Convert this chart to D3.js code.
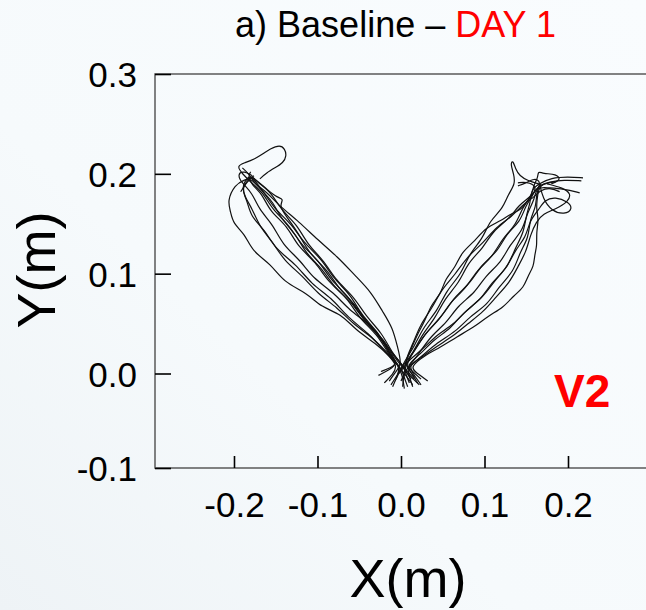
<!DOCTYPE html>
<html>
<head>
<meta charset="utf-8">
<script src="https://cdn.jsdelivr.net/npm/d3@7"></script>
<style>
  html, body { margin: 0; padding: 0; background: #f8fbfd; }
  svg { display: block; }
</style>
</head>
<body>
<svg id="chart" width="646" height="610"></svg>
<script>
// Axis ticks (metres)
const xTicks = [-0.2, -0.1, 0.0, 0.1, 0.2];
const yTicks = [-0.1, 0.0, 0.1, 0.2, 0.3];

// Hand paths, [x, y] in metres — reaches toward the upper-left target
const left1 = [[0.014,-0.012],[0.006,-0.002],[-0.004,0.008],[-0.012,0.016],[-0.030,0.030],[-0.055,0.044],[-0.072,0.060],[-0.095,0.066],[-0.113,0.081],[-0.140,0.091],[-0.156,0.110],[-0.178,0.122],[-0.187,0.140],[-0.201,0.150],[-0.204,0.162],[-0.208,0.173],[-0.199,0.189],[-0.188,0.194],[-0.178,0.196]];
const left2 = [[-0.020,-0.010],[-0.010,-0.001],[-0.003,0.008],[-0.021,0.023],[-0.038,0.040],[-0.064,0.056],[-0.083,0.076],[-0.107,0.089],[-0.126,0.110],[-0.150,0.124],[-0.163,0.144],[-0.180,0.157],[-0.184,0.173],[-0.191,0.184],[-0.184,0.194],[-0.176,0.198]];
const left3 = [[0.008,-0.014],[0.003,-0.002],[0.000,0.006],[-0.015,0.019],[-0.028,0.039],[-0.050,0.055],[-0.064,0.076],[-0.087,0.091],[-0.102,0.112],[-0.124,0.127],[-0.136,0.148],[-0.157,0.162],[-0.166,0.180],[-0.179,0.189],[-0.183,0.198],[-0.180,0.202]];
const left4 = [[-0.024,0.002],[-0.012,0.006],[-0.003,0.010],[-0.017,0.026],[-0.029,0.043],[-0.048,0.059],[-0.060,0.079],[-0.081,0.095],[-0.095,0.115],[-0.117,0.131],[-0.131,0.150],[-0.152,0.165],[-0.163,0.181],[-0.176,0.191],[-0.182,0.200],[-0.190,0.206]];
const left5 = [[0.016,-0.006],[0.008,0.002],[0.001,0.009],[-0.011,0.021],[-0.023,0.041],[-0.042,0.057],[-0.056,0.077],[-0.078,0.093],[-0.092,0.113],[-0.112,0.129],[-0.124,0.149],[-0.144,0.164],[-0.155,0.181],[-0.171,0.191],[-0.178,0.197]];
const left6 = [[-0.010,-0.014],[-0.004,-0.002],[-0.001,0.007],[-0.013,0.019],[-0.025,0.037],[-0.044,0.052],[-0.058,0.071],[-0.080,0.086],[-0.094,0.105],[-0.114,0.120],[-0.126,0.140],[-0.144,0.155],[-0.153,0.172],[-0.167,0.183],[-0.174,0.193],[-0.180,0.197]];
const left7 = [[0.022,-0.012],[0.010,-0.002],[0.003,0.005],[-0.009,0.017],[-0.021,0.035],[-0.040,0.049],[-0.053,0.068],[-0.074,0.084],[-0.088,0.104],[-0.110,0.120],[-0.123,0.141],[-0.138,0.158],[-0.146,0.168],[-0.140,0.175],[-0.148,0.176],[-0.160,0.184],[-0.172,0.193],[-0.179,0.197]];
const left8 = [[-0.027,-0.002],[-0.014,0.004],[-0.004,0.009],[-0.015,0.021],[-0.027,0.041],[-0.048,0.057],[-0.062,0.077],[-0.084,0.093],[-0.098,0.113],[-0.120,0.129],[-0.134,0.149],[-0.154,0.164],[-0.165,0.181],[-0.179,0.191],[-0.190,0.200],[-0.197,0.208],[-0.187,0.211],[-0.175,0.215],[-0.165,0.220],[-0.157,0.225],[-0.145,0.229],[-0.139,0.225],[-0.137,0.218],[-0.141,0.211],[-0.151,0.206],[-0.161,0.201],[-0.169,0.195]];
const left9 = [[0.012,-0.006],[0.004,0.004],[-0.001,0.012],[-0.019,0.029],[-0.036,0.049],[-0.062,0.063],[-0.080,0.081],[-0.105,0.095],[-0.120,0.113],[-0.142,0.129],[-0.153,0.149],[-0.170,0.164],[-0.178,0.181],[-0.191,0.191],[-0.196,0.200],[-0.188,0.203],[-0.178,0.198]];
const left10 = [[-0.014,-0.008],[-0.006,0.002],[0.001,0.010],[-0.004,0.026],[-0.010,0.046],[-0.022,0.062],[-0.036,0.082],[-0.055,0.098],[-0.076,0.117],[-0.100,0.134],[-0.122,0.152],[-0.146,0.168],[-0.161,0.182],[-0.175,0.190],[-0.180,0.196],[-0.186,0.190],[-0.192,0.182]];
const left11 = [[0.004,-0.016],[0.002,-0.004],[-0.002,0.008],[-0.018,0.022],[-0.034,0.036],[-0.058,0.050],[-0.076,0.066],[-0.100,0.080],[-0.118,0.098],[-0.140,0.113],[-0.154,0.132],[-0.170,0.148],[-0.178,0.165],[-0.188,0.178],[-0.190,0.190],[-0.182,0.197]];

// Hand paths toward the upper-right target
const right1 = [[0.010,-0.010],[0.006,-0.001],[0.003,0.007],[0.012,0.024],[0.020,0.040],[0.029,0.053],[0.036,0.069],[0.048,0.080],[0.053,0.095],[0.065,0.106],[0.072,0.121],[0.089,0.133],[0.101,0.146],[0.120,0.153],[0.131,0.160],[0.143,0.163],[0.153,0.175],[0.162,0.184],[0.168,0.190]];
const right2 = [[-0.012,-0.012],[-0.004,-0.001],[0.002,0.008],[0.015,0.021],[0.025,0.039],[0.041,0.055],[0.052,0.075],[0.070,0.091],[0.080,0.111],[0.098,0.125],[0.110,0.143],[0.130,0.155],[0.141,0.169],[0.156,0.177],[0.164,0.188],[0.178,0.192],[0.195,0.194],[0.216,0.193]];
const right3 = [[0.020,-0.010],[0.012,0.001],[0.005,0.010],[0.017,0.023],[0.029,0.041],[0.047,0.054],[0.058,0.071],[0.078,0.085],[0.090,0.103],[0.110,0.117],[0.121,0.135],[0.138,0.149],[0.145,0.166],[0.156,0.177],[0.159,0.189],[0.164,0.196],[0.164,0.203],[0.170,0.200],[0.186,0.200],[0.192,0.194],[0.180,0.190]];
const right4 = [[0.002,-0.014],[0.003,-0.003],[0.006,0.004],[0.021,0.019],[0.035,0.037],[0.055,0.051],[0.068,0.068],[0.089,0.081],[0.101,0.098],[0.120,0.111],[0.130,0.129],[0.146,0.143],[0.151,0.161],[0.160,0.174],[0.162,0.187],[0.175,0.186],[0.195,0.185],[0.214,0.181]];
const right5 = [[0.024,-0.006],[0.014,0.002],[0.006,0.008],[0.023,0.019],[0.039,0.034],[0.060,0.045],[0.074,0.061],[0.096,0.074],[0.108,0.091],[0.127,0.105],[0.136,0.123],[0.150,0.137],[0.154,0.153],[0.165,0.164],[0.172,0.174],[0.185,0.177],[0.200,0.172],[0.206,0.165],[0.196,0.159],[0.180,0.163],[0.170,0.175],[0.166,0.190]];
const right6 = [[-0.006,-0.006],[-0.001,0.003],[0.004,0.012],[0.016,0.027],[0.027,0.047],[0.044,0.063],[0.054,0.083],[0.072,0.099],[0.081,0.119],[0.098,0.135],[0.106,0.153],[0.122,0.165],[0.128,0.179],[0.137,0.190],[0.135,0.200],[0.131,0.210],[0.134,0.214],[0.137,0.205],[0.142,0.198],[0.152,0.193],[0.165,0.190]];
const right7 = [[0.014,-0.014],[0.010,-0.003],[0.007,0.006],[0.025,0.017],[0.043,0.031],[0.066,0.042],[0.082,0.057],[0.104,0.069],[0.117,0.087],[0.135,0.102],[0.142,0.121],[0.153,0.136],[0.154,0.154],[0.162,0.167],[0.162,0.181],[0.168,0.192],[0.160,0.196],[0.148,0.190],[0.140,0.188]];
const right8 = [[0.032,-0.008],[0.020,0.000],[0.010,0.006],[0.028,0.018],[0.047,0.026],[0.067,0.037],[0.087,0.046],[0.105,0.058],[0.1225,0.066],[0.135,0.078],[0.147,0.086],[0.152,0.098],[0.159,0.107],[0.160,0.119],[0.163,0.128],[0.162,0.141],[0.165,0.154],[0.162,0.165],[0.163,0.174],[0.164,0.182],[0.168,0.190],[0.185,0.192]];
const right9 = [[-0.002,0.000],[0.003,0.006],[0.010,0.014],[0.027,0.025],[0.043,0.039],[0.063,0.049],[0.079,0.064],[0.098,0.076],[0.112,0.093],[0.128,0.107],[0.137,0.126],[0.147,0.141],[0.150,0.159],[0.155,0.171],[0.156,0.184],[0.165,0.190],[0.180,0.196],[0.200,0.197],[0.218,0.196]];
const right10 = [[0.016,-0.004],[0.009,0.004],[0.004,0.012],[0.014,0.029],[0.023,0.049],[0.037,0.065],[0.049,0.085],[0.065,0.099],[0.079,0.117],[0.099,0.131],[0.114,0.147],[0.133,0.157],[0.145,0.169],[0.159,0.176],[0.167,0.184],[0.180,0.186],[0.190,0.182]];
const right11 = [[0.024,-0.012],[0.016,-0.002],[0.008,0.008],[0.025,0.016],[0.042,0.027],[0.062,0.037],[0.080,0.050],[0.099,0.062],[0.114,0.077],[0.130,0.091],[0.140,0.107],[0.150,0.122],[0.155,0.139],[0.162,0.152],[0.170,0.160],[0.186,0.165],[0.200,0.172],[0.204,0.180],[0.194,0.186],[0.175,0.190]];
const right12 = [[0.000,-0.008],[0.004,0.000],[0.006,0.010],[0.018,0.026],[0.032,0.043],[0.050,0.058],[0.064,0.077],[0.084,0.091],[0.096,0.109],[0.116,0.122],[0.126,0.140],[0.143,0.152],[0.149,0.168],[0.158,0.178],[0.163,0.188],[0.150,0.192],[0.140,0.191]];

const leftReaches = [left1, left2, left3, left4, left5, left6, left7, left8, left9, left10, left11];
const rightReaches = [right1, right2, right3, right4, right5, right6, right7, right8, right9, right10, right11, right12];

const W = 646, H = 610;
const svg = d3.select("#chart");
const FONT = "'Liberation Sans', Arial, Helvetica, sans-serif";

// soft page background
const defs = svg.append("defs");
const bg = defs.append("linearGradient").attr("id", "bg")
  .attr("x1", 0).attr("y1", 1).attr("x2", 1).attr("y2", 0);
bg.append("stop").attr("offset", 0).attr("stop-color", "#eef3f6");
bg.append("stop").attr("offset", 0.4).attr("stop-color", "#f6fafc");
bg.append("stop").attr("offset", 1).attr("stop-color", "#f9fcfe");
svg.append("rect").attr("width", W).attr("height", H).attr("fill", "url(#bg)");

// scales
const x = d3.scaleLinear().domain([-0.2946, 0.3]).range([155, 651.5]);
const y = d3.scaleLinear().domain([-0.1, 0.0, 0.3]).range([468, 373.5, 74]);

// frame
const [x0, x1] = x.range();
const yb = y(-0.1), yt = y(0.3);
svg.append("path")
  .attr("d", `M${x1},${yt}H${x0}V${yb}H${x1}V${yt}`)
  .attr("fill", "none").attr("stroke", "#5a5a5a").attr("stroke-width", 1.5);

const fmt = d => d.toFixed(1);

// x axis
const gx = svg.append("g").attr("transform", `translate(0,${yb})`)
  .call(d3.axisBottom(x).tickValues(xTicks).tickSize(-12).tickSizeOuter(0).tickFormat(fmt));
gx.select(".domain").remove();
gx.selectAll(".tick line").attr("stroke", "#000").attr("stroke-width", 1.6);
gx.selectAll(".tick text")
  .attr("y", 49).attr("dy", 0)
  .attr("fill", "#000").style("font", `35px ${FONT}`);

// y axis
const gy = svg.append("g").attr("transform", `translate(${x0},0)`)
  .call(d3.axisLeft(y).tickValues(yTicks).tickSize(-16).tickSizeOuter(0).tickFormat(fmt));
gy.select(".domain").remove();
gy.selectAll(".tick line").attr("stroke", "#000").attr("stroke-width", 1.6);
gy.selectAll(".tick text")
  .attr("x", -18).attr("dy", "0.36em")
  .attr("fill", "#000").style("font", `35px ${FONT}`);

// trajectories, smoothed through the sampled positions
const line = d3.line()
  .x(d => x(d[0])).y(d => y(d[1]))
  .curve(d3.curveBasis);
svg.append("g")
  .selectAll("path")
  .data(leftReaches.concat(rightReaches))
  .join("path")
  .attr("d", line)
  .attr("fill", "none")
  .attr("stroke", "#111")
  .attr("stroke-width", 1.2)
  .attr("stroke-linejoin", "round");

// title
const title = svg.append("text")
  .attr("x", 395.5).attr("y", 37)
  .attr("text-anchor", "middle")
  .style("font", `36px ${FONT}`);
title.append("tspan").attr("fill", "#000").text("a) Baseline \u2013 ");
title.append("tspan").attr("fill", "#ff0000").text("DAY 1");

// axis titles
svg.append("text")
  .attr("x", 408).attr("y", 597)
  .attr("text-anchor", "middle")
  .attr("fill", "#000")
  .style("font", `54px ${FONT}`)
  .text("X(m)");
svg.append("text")
  .attr("transform", "translate(55,270) rotate(-90)")
  .attr("text-anchor", "middle")
  .attr("fill", "#000")
  .style("font", `54px ${FONT}`)
  .text("Y(m)");

// condition tag
svg.append("text")
  .attr("x", 554).attr("y", 407)
  .attr("fill", "#ff0000")
  .style("font", `bold 46px ${FONT}`)
  .text("V2");
</script>
</body>
</html>
